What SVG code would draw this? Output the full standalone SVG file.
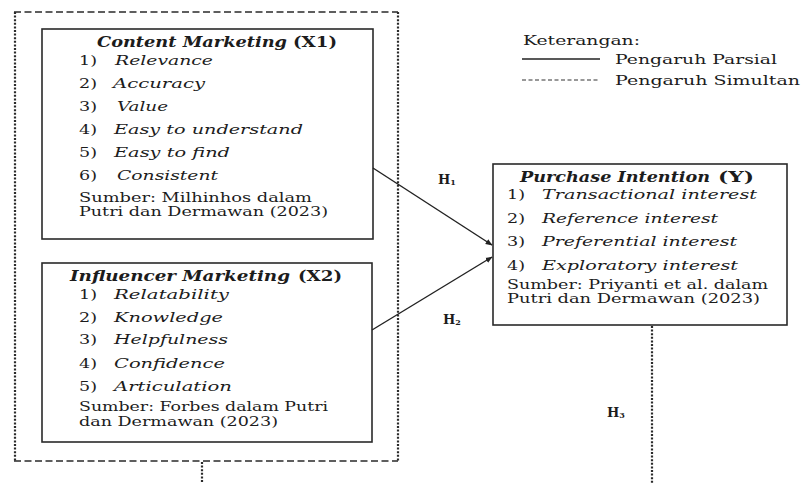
<svg xmlns="http://www.w3.org/2000/svg" width="801" height="483" viewBox="0 0 801 483">
<defs>
<style>
.t{font-family:"DejaVu Serif","Liberation Serif",serif;fill:#1c1c1c;font-size:13px}
.s{font-size:12px}
.tt{font-size:14px;font-weight:bold}
.i{font-style:italic}
.b{font-weight:bold}
.box{fill:none;stroke:#2a2a2a;stroke-width:1.6}
.dash{fill:none;stroke:#2a2a2a;stroke-width:1.6;stroke-dasharray:7,3.5}
.dot{fill:none;stroke:#2a2a2a;stroke-width:2.2;stroke-dasharray:2,1.6}
.arr{fill:none;stroke:#222;stroke-width:1.4;marker-end:url(#ah)}
</style>
<marker id="ah" viewBox="0 0 10 10" refX="9" refY="5" markerWidth="7" markerHeight="7" markerUnits="userSpaceOnUse" orient="auto">
<path d="M0,1 L10,5 L0,9 z" fill="#222"/>
</marker>
</defs>
<rect width="801" height="483" fill="#fff"/>

<g id="outer">
<line class="dash" x1="14" y1="12" x2="398" y2="12"/>
<line class="dash" x1="14" y1="461" x2="398" y2="461"/>
<line class="dot" x1="15" y1="12" x2="15" y2="461"/>
<line class="dot" x1="398" y1="12" x2="398" y2="461"/>
</g>

<g id="content-marketing">
<rect class="box" x="42" y="29" width="331" height="210"/>
<text class="t tt i" x="97" y="47" textLength="190" lengthAdjust="spacingAndGlyphs">Content Marketing</text>
<text class="t tt" x="293" y="47" textLength="44" lengthAdjust="spacingAndGlyphs">(X1)</text>
<text class="t" x="79" y="65" textLength="18" lengthAdjust="spacingAndGlyphs">1)</text>
<text class="t i" x="115" y="65" textLength="98" lengthAdjust="spacingAndGlyphs">Relevance</text>
<text class="t" x="79" y="88" textLength="18" lengthAdjust="spacingAndGlyphs">2)</text>
<text class="t i" x="113" y="88" textLength="92" lengthAdjust="spacingAndGlyphs">Accuracy</text>
<text class="t" x="79" y="111" textLength="18" lengthAdjust="spacingAndGlyphs">3)</text>
<text class="t i" x="117" y="111" textLength="51" lengthAdjust="spacingAndGlyphs">Value</text>
<text class="t" x="79" y="134" textLength="18" lengthAdjust="spacingAndGlyphs">4)</text>
<text class="t i" x="114" y="134" textLength="189" lengthAdjust="spacingAndGlyphs">Easy to understand</text>
<text class="t" x="79" y="157" textLength="18" lengthAdjust="spacingAndGlyphs">5)</text>
<text class="t i" x="114" y="157" textLength="116" lengthAdjust="spacingAndGlyphs">Easy to find</text>
<text class="t" x="79" y="180" textLength="18" lengthAdjust="spacingAndGlyphs">6)</text>
<text class="t i" x="117" y="180" textLength="101" lengthAdjust="spacingAndGlyphs">Consistent</text>
<text class="t s" x="79" y="202" textLength="233" lengthAdjust="spacingAndGlyphs">Sumber: Milhinhos dalam</text>
<text class="t s" x="79" y="216" textLength="249" lengthAdjust="spacingAndGlyphs">Putri dan Dermawan (2023)</text>
</g>

<g id="influencer-marketing">
<rect class="box" x="42" y="263" width="330" height="179"/>
<text class="t tt i" x="70" y="281" textLength="220" lengthAdjust="spacingAndGlyphs">Influencer Marketing</text>
<text class="t tt" x="298" y="281" textLength="44" lengthAdjust="spacingAndGlyphs">(X2)</text>
<text class="t" x="79" y="299" textLength="18" lengthAdjust="spacingAndGlyphs">1)</text>
<text class="t i" x="114" y="299" textLength="115" lengthAdjust="spacingAndGlyphs">Relatability</text>
<text class="t" x="79" y="322" textLength="18" lengthAdjust="spacingAndGlyphs">2)</text>
<text class="t i" x="114" y="322" textLength="109" lengthAdjust="spacingAndGlyphs">Knowledge</text>
<text class="t" x="79" y="344" textLength="18" lengthAdjust="spacingAndGlyphs">3)</text>
<text class="t i" x="114" y="344" textLength="114" lengthAdjust="spacingAndGlyphs">Helpfulness</text>
<text class="t" x="79" y="368" textLength="18" lengthAdjust="spacingAndGlyphs">4)</text>
<text class="t i" x="114" y="368" textLength="111" lengthAdjust="spacingAndGlyphs">Confidence</text>
<text class="t" x="79" y="391" textLength="18" lengthAdjust="spacingAndGlyphs">5)</text>
<text class="t i" x="114" y="391" textLength="118" lengthAdjust="spacingAndGlyphs">Articulation</text>
<text class="t s" x="79" y="411" textLength="249" lengthAdjust="spacingAndGlyphs">Sumber: Forbes dalam Putri</text>
<text class="t s" x="79" y="426" textLength="199" lengthAdjust="spacingAndGlyphs">dan Dermawan (2023)</text>
</g>

<g id="purchase-intention">
<rect class="box" x="493" y="164" width="294" height="161"/>
<text class="t tt i" x="520" y="182" textLength="190" lengthAdjust="spacingAndGlyphs">Purchase Intention</text>
<text class="t tt" x="718" y="182" textLength="36" lengthAdjust="spacingAndGlyphs">(Y)</text>
<text class="t" x="507" y="199" textLength="18" lengthAdjust="spacingAndGlyphs">1)</text>
<text class="t i" x="542" y="199" textLength="215" lengthAdjust="spacingAndGlyphs">Transactional interest</text>
<text class="t" x="507" y="223" textLength="18" lengthAdjust="spacingAndGlyphs">2)</text>
<text class="t i" x="542" y="223" textLength="176" lengthAdjust="spacingAndGlyphs">Reference interest</text>
<text class="t" x="507" y="246" textLength="18" lengthAdjust="spacingAndGlyphs">3)</text>
<text class="t i" x="542" y="246" textLength="195" lengthAdjust="spacingAndGlyphs">Preferential interest</text>
<text class="t" x="507" y="270" textLength="18" lengthAdjust="spacingAndGlyphs">4)</text>
<text class="t i" x="542" y="270" textLength="196" lengthAdjust="spacingAndGlyphs">Exploratory interest</text>
<text class="t s" x="507" y="289" textLength="261" lengthAdjust="spacingAndGlyphs">Sumber: Priyanti et al. dalam</text>
<text class="t s" x="507" y="303" textLength="253" lengthAdjust="spacingAndGlyphs">Putri dan Dermawan  (2023)</text>
</g>

<g id="legend">
<text class="t" x="523" y="45" textLength="117" lengthAdjust="spacingAndGlyphs">Keterangan:</text>
<line x1="522" y1="59" x2="600" y2="59" stroke="#222" stroke-width="1.3"/>
<text class="t" x="615" y="64" textLength="162" lengthAdjust="spacingAndGlyphs">Pengaruh Parsial</text>
<line x1="522" y1="80" x2="600" y2="80" stroke="#333" stroke-width="1.2" stroke-dasharray="4,2.5"/>
<text class="t" x="615" y="85" textLength="185" lengthAdjust="spacingAndGlyphs">Pengaruh Simultan</text>
</g>

<g id="connectors">
<line class="arr" x1="373" y1="168" x2="492" y2="245"/>
<line class="arr" x1="372" y1="330" x2="492" y2="257"/>
<line class="dot" x1="652" y1="326" x2="652" y2="483"/>
<line class="dot" x1="202" y1="462" x2="202" y2="483"/>
</g>

<g id="labels">
<text class="t b" x="438" y="184" font-size="13">H<tspan font-size="8" dy="1">1</tspan></text>
<text class="t b" x="443" y="324" font-size="13">H<tspan font-size="8" dy="1">2</tspan></text>
<text class="t b" x="607" y="417" font-size="13">H<tspan font-size="8" dy="1">3</tspan></text>
</g>
</svg>
